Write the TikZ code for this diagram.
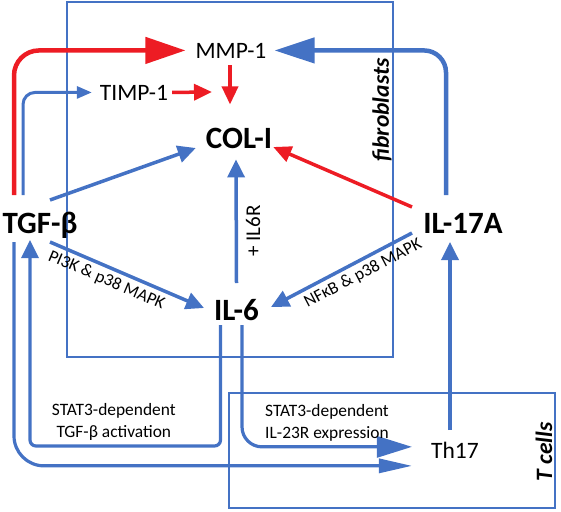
\documentclass[tikz,border=0pt]{standalone}
\usepackage{fontspec}
\setmainfont{Carlito}
\usetikzlibrary{arrows.meta,calc}
\definecolor{cblue}{RGB}{68,114,196}
\definecolor{cred}{RGB}{237,28,36}
\begin{document}
\begin{tikzpicture}[x=1pt,y=-1pt,
  molbig/.style={font=\fontsize{31}{37}\selectfont\bfseries,inner sep=0pt,anchor=base},
  molmid/.style={font=\fontsize{23.5}{28}\selectfont,inner sep=0pt,anchor=base},
  lbl/.style={font=\fontsize{17.4}{22}\selectfont,align=center,inner sep=4pt,text=black},
  celltag/.style={font=\fontsize{23.5}{28}\selectfont\bfseries\itshape,rotate=90},
  cellbox/.style={draw=cblue,line width=1.2pt},
  act/.style={color=cblue,line width=3.5pt,-{Triangle[length=18pt,width=17pt]}},
  bigact/.style={color=cblue,line width=4.5pt,-{Triangle[length=40pt,width=25pt]}},
  redact/.style={color=cred,line width=3.5pt,-{Triangle[length=18pt,width=16pt]}},
  bigred/.style={color=cred,line width=4.5pt,-{Triangle[length=40pt,width=26pt]}}]
\useasboundingbox (0,0) rectangle (561,511);
% cells
\draw[cellbox] (67,2) rectangle (393,357);
\draw[cellbox] (229,393) rectangle (555,508);
\node[celltag] at (382,110) {fibroblasts};
\node[celltag] at (544,452) {T cells};
% molecules
\node[molmid] (mmp) at (231,58) {MMP-1};
\node[molmid] (timp) at (134,100) {TIMP-1};
\node[molbig] (col) at (239,148) {COL-I};
\node[molbig] (tgf) at (40,233) {TGF-β};
\node[molbig] (il17) at (463,233) {IL-17A};
\node[molbig] (il6) at (236.5,320) {IL-6};
\node[molmid] (th17) at (455,458) {Th17};
\coordinate (mmpcol) at (212,92);
% fibroblast signals
\draw[bigred,rounded corners=25pt] ($(tgf.base)+(-26,-38)$) |- ([xshift=-10pt]mmp.west);
\draw[act,line width=3pt,-{Triangle[length=15pt,width=12pt]},rounded corners=12pt]
  ($(tgf.base)+(-17,-38)$) |- ([xshift=-8pt]timp.west);
\draw[redact] ([xshift=4pt]timp.east) -- (mmpcol);
\draw[redact] ($(mmp.south)+(-1,7)$) -- ($(col.north)+(-9,-23)$);
\draw[act] ($(tgf.base)+(10,-33)$) -- ([xshift=-10pt]col.base west);
\draw[act] ($(il6.base)+(0,-37)$) -- ($(col.south)+(-3,11)$)
  node[lbl,font=\fontsize{21}{25}\selectfont,rotate=90,anchor=north,pos=0.42,inner sep=8pt] {+ IL6R};
\draw[redact] ($(il17.base)+(-51,-26)$) -- ($(col.base east)+(1,-1)$);
\draw[bigact,rounded corners=22pt] ($(il17.base)+(-17,-38)$) |- ([xshift=8pt]mmp.east);
\draw[act] ($(tgf.base)+(10,9)$) -- ($(il6.base west)+(-10,-12)$)
  node[lbl,sloped,below,pos=0.4] {PI3K \& p38 MAPK};
\draw[act] ($(il17.base)+(-51,0)$) -- ($(il6.base east)+(12,-13)$)
  node[lbl,sloped,below,pos=0.39] {NFκB \& p38 MAPK};
% T cell signals
\draw[act] ($(th17.base)+(-5,-28)$) -- ($(il17.base)+(-13,9)$);
\draw[act,line width=3.2pt,rounded corners=6pt] ($(il6.base)+(-16,5)$) |- ($(tgf.base)+(-10,213)$)
  node[lbl,above,pos=0.78] {STAT3-dependent\\TGF-β activation} -- ($(tgf.base)+(-10,7)$);
\draw[act,line width=3.2pt,-{Triangle[length=35pt,width=21pt]},rounded corners=20pt]
  ($(il6.base)+(5.5,5)$) |- ($(th17.west)+(-19,-3)$)
  node[lbl,above,pos=0.75] {STAT3-dependent\\IL-23R expression};
\draw[act,line width=3.2pt,-{Triangle[length=33pt,width=14pt]},rounded corners=30pt]
  ($(tgf.base)+(-26,9)$) |- ($(th17.west)+(-19,16)$);
\end{tikzpicture}
\end{document}
